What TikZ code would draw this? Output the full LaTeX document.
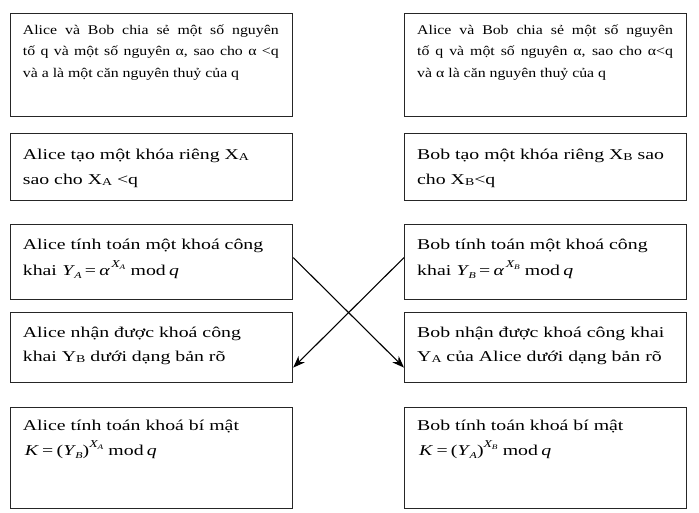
\documentclass[tikz,border=0pt]{standalone}
\usepackage{fontspec}
\usepackage{graphicx}
\setmainfont{Liberation Serif}
\usetikzlibrary{arrows.meta}
\newcommand\lsub[1]{\raisebox{-1.3pt}{\fontsize{10.5}{10.5}\selectfont #1}}
\newcommand\fY[1]{\textit{Y}\kern-0.5pt\raisebox{-3.5pt}{\fontsize{9}{9}\selectfont\textit{#1}}}
\newcommand\fpow[2]{\raisebox{8pt}{\fontsize{10.5}{10.5}\selectfont\textit{X}\kern-0.5pt\raisebox{-2.5pt}{\fontsize{7}{7}\selectfont\textit{#2}}}}
\newcommand\wideA[1]{\scalebox{1.19}[1]{\parbox[t]{215pt}{\fontsize{13.3}{21.5}\selectfont #1}}}
\newcommand\wideB[2]{\scalebox{1.32}[1]{\parbox[t]{200pt}{\fontsize{15}{#1}\selectfont #2}}}
\tikzset{
  box/.style={draw=black!85, line width=1.2pt, rectangle, inner sep=0pt, anchor=north west},
  txt/.style={inner sep=0pt, anchor=base west, align=left},
  conn/.style={line width=1.1pt, -{Stealth[length=12pt,width=9pt]}},
}
\begin{document}
\begin{tikzpicture}[x=1pt,y=-1pt]
\useasboundingbox (0,0) rectangle (699,512);
% boxes
\node[box, minimum width=282pt, minimum height=103pt] (a1) at (10,13) {};
\node[box, minimum width=282pt, minimum height=103pt] (b1) at (404,13) {};
\node[box, minimum width=282pt, minimum height=67pt] (a2) at (10,133) {};
\node[box, minimum width=282pt, minimum height=67pt] (b2) at (404,133) {};
\node[box, minimum width=282pt, minimum height=75pt] (a3) at (10,224) {};
\node[box, minimum width=282pt, minimum height=75pt] (b3) at (404,224) {};
\node[box, minimum width=282pt, minimum height=70pt] (a4) at (10,312) {};
\node[box, minimum width=282pt, minimum height=70pt] (b4) at (404,312) {};
\node[box, minimum width=282pt, minimum height=101pt] (a5) at (10,407) {};
\node[box, minimum width=282pt, minimum height=101pt] (b5) at (404,407) {};
% texts
\node[txt] (ta1) at (22.7,34) {\wideA{Alice và Bob chia sẻ một số nguyên\linebreak tố q và một số nguyên α, sao cho α <q\linebreak và a là một căn nguyên thuỷ của q}};
\node[txt] (tb1) at (417,34) {\wideA{Alice và Bob chia sẻ một số nguyên\linebreak tố q và một số nguyên α, sao cho α<q\linebreak và α là căn nguyên thuỷ của q}};
\node[txt] (ta2) at (22.7,159) {\wideB{25}{Alice tạo một khóa riêng X\lsub{A}\\ sao cho X\lsub{A} <q}};
\node[txt] (tb2) at (417,159) {\wideB{25}{Bob tạo một khóa riêng X\lsub{B} sao\\ cho X\lsub{B}<q}};
\node[txt] (ta3) at (22.7,249) {\wideB{26}{Alice tính toán một khoá công\\ khai\hspace{4pt}\fY{A}\,=\,\textit{α}\kern1pt\fpow{X}{A}\hspace{4pt}mod\,\textit{q}}};
\node[txt] (tb3) at (417,249) {\wideB{26}{Bob tính toán một khoá công\\ khai\hspace{4pt}\fY{B}\,=\,\textit{α}\kern1pt\fpow{X}{B}\hspace{4pt}mod\,\textit{q}}};
\node[txt] (ta4) at (22.7,337) {\wideB{24}{Alice nhận được khoá công\\ khai Y\lsub{B} dưới dạng bản rõ}};
\node[txt] (tb4) at (417,337) {\wideB{24}{Bob nhận được khoá công khai\\ Y\lsub{A} của Alice dưới dạng bản rõ}};
\node[txt] (ta5) at (22.7,430) {\wideB{25}{Alice tính toán khoá bí mật\\ \hspace*{1.5pt}\textit{K}\,=\,(\fY{B})\fpow{X}{A}\hspace{4pt}mod\,\textit{q}}};
\node[txt] (tb5) at (417,430) {\wideB{25}{Bob tính toán khoá bí mật\\ \hspace*{1.5pt}\textit{K}\,=\,(\fY{A})\fpow{X}{B}\hspace{4pt}mod\,\textit{q}}};
% connectors
\draw[conn] ([yshift=4.5pt]a3.east) -- ([yshift=-20pt]b4.west);
\draw[conn] ([yshift=4.5pt]b3.west) -- ([yshift=-20pt]a4.east);
\end{tikzpicture}
\end{document}
